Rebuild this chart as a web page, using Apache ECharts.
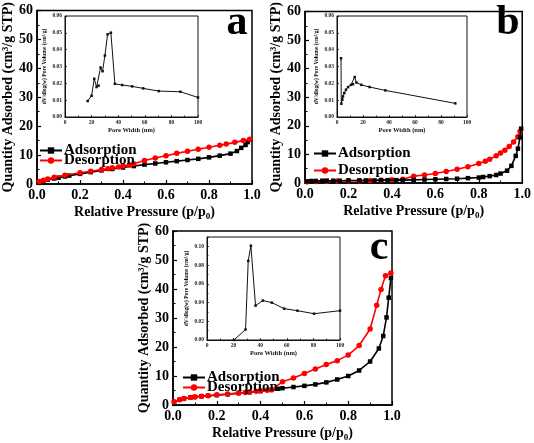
<!DOCTYPE html>
<html><head><meta charset="utf-8">
<script src="https://cdn.jsdelivr.net/npm/echarts@6/dist/echarts.min.js"></script>
<style>html,body{margin:0;padding:0;background:#fff}#c{width:534px;height:443px}</style>
</head><body><div id="c"></div>
<script>
// ---- Panel a main isotherm ----
var aAdsX = [0.01,0.03,0.05,0.08,0.10,0.13,0.15,0.20,0.25,0.30,0.35,0.40,0.45,0.50,0.55,0.60,0.65,0.70,0.75,0.80,0.85,0.90,0.93,0.95,0.97,0.98,0.99];
var aAdsY = [0.6,1.1,1.5,1.9,2.2,2.6,2.9,3.5,4.1,4.7,5.2,5.7,6.2,6.7,7.1,7.5,7.9,8.3,8.7,9.2,9.8,10.5,11.4,12.5,13.5,14.5,15.3];
var aDesX = [0.01,0.03,0.05,0.08,0.13,0.20,0.25,0.30,0.33,0.35,0.38,0.40,0.43,0.45,0.50,0.55,0.60,0.65,0.70,0.75,0.80,0.85,0.88,0.92,0.96,0.99];
var aDesY = [0.9,1.3,1.7,2.3,3.0,3.9,4.4,5.0,5.3,5.6,5.9,6.2,6.6,7.0,8.1,9.0,9.8,10.6,11.3,12.0,12.7,13.4,13.8,14.4,15.0,15.5];
// ---- Panel a inset PSD ----
var aPsdX = [17,20,22,23.75,25.25,26.75,28.25,30,32,34.5,37.5,43,50.5,58.75,70.5,86.75,100];
var aPsdY = [0.0095,0.0126,0.0227,0.0178,0.0186,0.0294,0.0272,0.0365,0.0491,0.0501,0.0197,0.0190,0.0182,0.0170,0.0154,0.0150,0.0116];
// ---- Panel b main isotherm ----
var bAdsX = [0.01,0.03,0.05,0.08,0.10,0.13,0.16,0.20,0.25,0.28,0.32,0.35,0.38,0.42,0.45,0.50,0.55,0.60,0.65,0.70,0.75,0.80,0.82,0.85,0.88,0.90,0.93,0.95,0.97,0.98,0.99,0.995];
var bAdsY = [0.6,0.7,0.7,0.8,0.8,0.8,0.8,0.9,0.9,0.9,0.9,1.0,1.0,1.0,1.0,1.1,1.2,1.3,1.4,1.5,1.7,1.9,2.1,2.4,2.8,3.3,4.3,6.0,9.5,12.0,16.0,19.0];
var bDesX = [0.01,0.05,0.10,0.15,0.20,0.25,0.30,0.35,0.40,0.45,0.50,0.55,0.60,0.65,0.70,0.75,0.80,0.83,0.85,0.88,0.90,0.92,0.94,0.96,0.98,0.99];
var bDesY = [0.4,0.5,0.6,0.7,0.8,0.8,0.9,1.0,1.1,1.3,2.4,2.8,3.3,4.0,4.8,5.7,6.8,7.6,8.3,9.5,10.5,11.5,12.8,14.3,16.2,18.0];
// ---- Panel b inset PSD ----
var bPsdX = [3.1,3.3,4.1,4.6,5.6,6.9,8.5,10.8,12.3,13.6,14.9,18.7,25.1,37.2,91];
var bPsdY = [0.0349,0.0079,0.0103,0.0122,0.0142,0.0162,0.0178,0.0191,0.0195,0.0237,0.0205,0.0191,0.0178,0.0158,0.0081];
// ---- Panel c main isotherm ----
var cAdsX = [0.005,0.03,0.05,0.08,0.10,0.13,0.16,0.20,0.25,0.30,0.35,0.40,0.45,0.48,0.50,0.55,0.60,0.65,0.70,0.75,0.80,0.85,0.90,0.94,0.96,0.975,0.985,0.995];
var cAdsY = [1.0,1.8,2.2,2.6,2.8,3.0,3.2,3.4,3.7,4.1,4.4,4.8,5.2,5.6,5.8,6.2,6.6,7.1,7.8,8.8,10.0,11.9,15.0,19.5,23.8,30.2,37.0,43.8];
var cDesX = [0.005,0.03,0.05,0.08,0.10,0.13,0.16,0.20,0.25,0.30,0.33,0.35,0.38,0.40,0.43,0.45,0.50,0.55,0.60,0.65,0.70,0.75,0.80,0.85,0.90,0.93,0.95,0.97,0.995];
var cDesY = [1.1,1.8,2.2,2.6,2.8,3.0,3.2,3.5,3.8,4.1,4.3,4.5,4.7,4.9,5.1,5.3,8.0,9.3,10.9,12.4,14.0,15.3,17.2,20.5,26.2,34.4,39.8,44.6,45.5];
// ---- Panel c inset PSD ----
var cPsdX = [20.25,29,31,33,36.5,42,48.75,58,68,80.5,100];
var cPsdY = [0,0.0112,0.0845,0.1007,0.0367,0.0421,0.0399,0.0335,0.0313,0.0281,0.0313];

var seriesNames = ['Adsorption','Desorption'];
var panelLetters = ['a','b','c'];
var xTitle = 'Relative Pressure (p/p{s|0})';
var yTitle = 'Quantity Adsorbed (cm³/g STP)';
var insetXTitle = 'Pore Width (nm)';
var insetYTitle = 'dV/dlog(w) Pore Volume (cm³/g)';

function zip(x, y){ return x.map(function(v,i){ return [v, y[i]]; }); }

var SERIF = '"Liberation Serif","Times New Roman",serif';
var chart = echarts.init(document.getElementById('c'), null, {renderer:'canvas'});

var mainGrids = [
  {left:37, top:6, width:215, height:178},
  {left:305, top:5, width:218, height:178},
  {left:173, top:231, width:219, height:178}
];
var insetGrids = [
  {left:65, top:16, width:133, height:101},
  {left:337, top:16, width:130, height:101},
  {left:207, top:237, width:133, height:103}
];
var grids = [], xAxes = [], yAxes = [], series = [], legends = [], graphics = [];
mainGrids.forEach(function(g){
  grids.push(Object.assign({show:true, borderColor:'#000', borderWidth:1.5, backgroundColor:'transparent'}, g));
});
insetGrids.forEach(function(g){
  grids.push(Object.assign({show:true, borderColor:'#111', borderWidth:1, backgroundColor:'transparent'}, g));
});

function mainX(i){
  return {gridIndex:i, type:'value', min:0, max:1, interval:0.2,
    axisLine:{lineStyle:{color:'#000', width:1.5}},
    axisTick:{inside:true, length:4, lineStyle:{color:'#000', width:1.2}},
    minorTick:{show:true, splitNumber:2, length:2.5, lineStyle:{color:'#000', width:1}},
    splitLine:{show:false},
    axisLabel:{formatter:function(v){return v.toFixed(1);}, fontFamily:SERIF, fontWeight:'bold', fontSize:14, color:'#000', margin:4},
    name:xTitle, nameLocation:'middle', nameGap:19,
    nameTextStyle:{fontFamily:SERIF, fontWeight:'bold', fontSize:14, color:'#000', lineHeight:18,
      rich:{s:{fontFamily:SERIF, fontWeight:'bold', fontSize:9, color:'#000', verticalAlign:'bottom', lineHeight:9}}}
  };
}
function mainY(i){
  return {gridIndex:i, type:'value', min:0, max:60, interval:10,
    axisLine:{lineStyle:{color:'#000', width:1.5}},
    axisTick:{inside:true, length:4, lineStyle:{color:'#000', width:1.2}},
    minorTick:{show:true, splitNumber:2, length:2.5, lineStyle:{color:'#000', width:1}},
    splitLine:{show:false},
    axisLabel:{fontFamily:SERIF, fontWeight:'bold', fontSize:14, color:'#000', margin:4},
    name:yTitle, nameLocation:'middle', nameGap:19,
    nameTextStyle:{fontFamily:SERIF, fontWeight:'bold', fontSize:14, color:'#000'}
  };
}
function insetX(i){
  return {gridIndex:i, type:'value', min:0, max:100, interval:20,
    axisLine:{lineStyle:{color:'#111', width:1}},
    axisTick:{inside:true, length:2, lineStyle:{color:'#111', width:0.8}},
    minorTick:{show:true, splitNumber:2, length:1.5, lineStyle:{color:'#111', width:0.8}},
    splitLine:{show:false},
    axisLabel:{fontFamily:SERIF, fontWeight:'bold', fontSize:5.5, color:'#222', margin:3},
    name:insetXTitle, nameLocation:'middle', nameGap:10,
    nameTextStyle:{fontFamily:SERIF, fontWeight:'bold', fontSize:6.5, color:'#111'}
  };
}
function insetY(i, max, interval){
  return {gridIndex:i, type:'value', min:0, max:max, interval:interval,
    axisLine:{lineStyle:{color:'#111', width:1}},
    axisTick:{inside:true, length:2, lineStyle:{color:'#111', width:0.8}},
    minorTick:{show:interval>0.01, splitNumber:2, length:1.5, lineStyle:{color:'#111', width:0.8}},
    splitLine:{show:false},
    axisLabel:{fontFamily:SERIF, fontWeight:'bold', fontSize:5.5, color:'#222', margin:3, showMaxLabel: max===0.06,
      formatter:function(v){return v.toFixed(2);}},
    name:insetYTitle, nameLocation:'middle', nameGap:17,
    nameTextStyle:{fontFamily:SERIF, fontWeight:'bold', fontSize:5.5, color:'#111'}
  };
}
for (var i=0;i<3;i++){ xAxes.push(mainX(i)); yAxes.push(mainY(i)); }
xAxes.push(insetX(3)); yAxes.push(insetY(3, 0.06, 0.01));
xAxes.push(insetX(4)); yAxes.push(insetY(4, 0.06, 0.01));
xAxes.push(insetX(5)); yAxes.push(insetY(5, 0.11, 0.02));

function adsSeries(idx, data, z){
  return {name:seriesNames[0], type:'line', xAxisIndex:idx, yAxisIndex:idx, data:data, z:z,
    symbol:'rect', symbolSize:4.5, showAllSymbol:true, animation:false,
    lineStyle:{color:'#000', width:1.6}, itemStyle:{color:'#000'}};
}
function desSeries(idx, data, z){
  return {name:seriesNames[1], type:'line', xAxisIndex:idx, yAxisIndex:idx, data:data, z:z,
    symbol:'circle', symbolSize:5.5, showAllSymbol:true, animation:false,
    lineStyle:{color:'#ff0000', width:1.6}, itemStyle:{color:'#ff0000'}};
}
function psdSeries(idx, data){
  return {name:'PSD'+idx, type:'line', xAxisIndex:idx, yAxisIndex:idx, data:data,
    symbol:'rect', symbolSize:2.5, showAllSymbol:true, animation:false,
    lineStyle:{color:'#111', width:1}, itemStyle:{color:'#111'}};
}
series.push(adsSeries(0, zip(aAdsX,aAdsY), 2));
series.push(desSeries(0, zip(aDesX,aDesY), 3));
series.push(desSeries(1, zip(bDesX,bDesY), 2));
series.push(adsSeries(1, zip(bAdsX,bAdsY), 3));
series.push(adsSeries(2, zip(cAdsX,cAdsY), 2));
series.push(desSeries(2, zip(cDesX,cDesY), 3));
series.push(psdSeries(3, zip(aPsdX,aPsdY)));
series.push(psdSeries(4, zip(bPsdX,bPsdY)));
series.push(psdSeries(5, zip(cPsdX,cPsdY)));

var legendPos = [
  [{left:39, top:143},{left:39, top:153}],
  [{left:313, top:146},{left:313, top:163}],
  [{left:182, top:370},{left:182, top:380}]
];
legendPos.forEach(function(p){
  for (var k=0;k<2;k++){
    legends.push({data:[seriesNames[k]], left:p[k].left, top:p[k].top, padding:0, itemWidth:22, itemHeight:8, itemGap:2,
      selectedMode:false,
      textStyle:{fontFamily:SERIF, fontWeight:'bold', fontSize:15, color:'#000', padding:[0,0,0,-3]}});
  }
});

var letterPos = [[237,23],[508,23],[379,248]];
letterPos.forEach(function(p, i){
  graphics.push({type:'text', left:null, x:p[0], y:p[1], z:100,
    style:{text:panelLetters[i], font:'bold 42px '+SERIF, fill:'#000', textAlign:'center', textVerticalAlign:'middle'}});
});

chart.setOption({
  animation:false,
  backgroundColor:'#fff',
  grid:grids, xAxis:xAxes, yAxis:yAxes, series:series, legend:legends, graphic:graphics
});
</script></body></html>
